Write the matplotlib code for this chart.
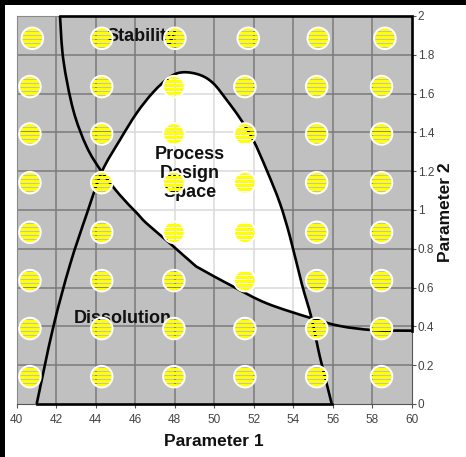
import numpy as np
import matplotlib
matplotlib.use('Agg')
import matplotlib.pyplot as plt
from matplotlib.patches import PathPatch, Rectangle, Ellipse
from matplotlib.path import Path
from matplotlib.transforms import Affine2D

plt.rcParams['font.family'] = ['Liberation Sans', 'DejaVu Sans']

# Stability boundary
stab_x = [42.20, 42.37, 42.87, 43.55, 44.31, 45.23, 46.08, 46.58, 47.76,
          48.94, 49.28, 50.96, 52.65, 54.92, 56.36, 58.04, 60.00]
stab_y = [2.000, 1.773, 1.515, 1.326, 1.197, 1.077, 0.985, 0.931, 0.828,
          0.722, 0.698, 0.605, 0.519, 0.442, 0.402, 0.381, 0.378]

# Dissolution boundary
diss_x = [41.02, 41.86, 42.70, 43.55, 44.31, 45.23, 46.08, 46.92, 47.76,
          48.43, 49.28, 49.95, 50.63, 51.30, 51.97, 52.65, 53.32, 53.83,
          54.42, 54.92, 55.34, 55.68, 55.94]
diss_y = [0.000, 0.397, 0.716, 0.979, 1.196, 1.361, 1.500, 1.608, 1.686,
          1.710, 1.696, 1.653, 1.567, 1.473, 1.361, 1.206, 1.035, 0.862,
          0.622, 0.442, 0.244, 0.107, 0.000]

# experiment points
dot_rows = [1.885, 1.636, 1.392, 1.141, 0.885, 0.636, 0.389, 0.141]
dot_cols_top = [40.80, 44.31, 48.01, 51.72, 55.26, 58.63]
dot_cols = [40.68, 44.31, 47.96, 51.55, 55.18, 58.46]

x_ticks = [40, 42, 44, 46, 48, 50, 52, 54, 56, 58, 60]
y_ticks = [0, 0.2, 0.4, 0.6, 0.8, 1.0, 1.2, 1.4, 1.6, 1.8, 2.0]
y_tick_labels = ['0', '0.2', '0.4', '0.6', '0.8', '1', '1.2', '1.4', '1.6', '1.8', '2']


def smooth_path(xs, ys):
    # bezier path through the read points (catmull-rom style handles)
    p = np.column_stack([xs, ys])
    verts = [p[0]]
    codes = [Path.MOVETO]
    n = len(p)
    for i in range(n - 1):
        p0 = p[i - 1] if i > 0 else p[i]
        p3 = p[i + 2] if i + 2 < n else p[i + 1]
        c1 = p[i] + (p[i + 1] - p0) / 6.0
        c2 = p[i + 1] - (p3 - p[i]) / 6.0
        verts += [c1, c2, p[i + 1]]
        codes += [Path.CURVE4] * 3
    return verts, codes


fig = plt.figure(figsize=(4.66, 4.57), dpi=100)
fig.patch.set_facecolor('white')
# black strips top / left
fig.patches.append(Rectangle((0, 1 - 5 / 457), 1, 5 / 457, transform=fig.transFigure,
                             facecolor='black', edgecolor='none', zorder=0))
fig.patches.append(Rectangle((0, 0), 4.5 / 466, 1, transform=fig.transFigure,
                             facecolor='black', edgecolor='none', zorder=0))

ax_l, ax_b, ax_w, ax_h = 16.5 / 466, 1 - 404 / 457, 395.5 / 466, 388 / 457
ax = fig.add_axes([ax_l, ax_b, ax_w, ax_h])
ax.set_facecolor('#c0c0c0')
ax.set_xlim(40, 60)
ax.set_ylim(0, 2)

# dark grid
for gx in x_ticks[1:-1]:
    ax.axvline(gx, color='#7a7a7a', lw=1.1, zorder=1)
for gy in y_ticks[1:-1]:
    ax.axhline(gy, color='#7a7a7a', lw=1.1, zorder=1)

# white design space (intersection of the two regions)
lo, hi = stab_x[4], stab_x[13]
wx = [x for x in diss_x if lo <= x <= hi]
wy = [y for x, y in zip(diss_x, diss_y) if lo <= x <= hi]
sx = [x for x in stab_x if lo <= x <= hi][::-1]
sy = [y for x, y in zip(stab_x, stab_y) if lo <= x <= hi][::-1]
v1, c1 = smooth_path(wx, wy)
v2, c2 = smooth_path(sx, sy)
c2[0] = Path.LINETO
white_path = Path(np.array(v1 + v2 + [v1[0]]), c1 + c2 + [Path.CLOSEPOLY])
white = PathPatch(white_path, facecolor='white', edgecolor='none', zorder=2)
ax.add_patch(white)
for gx in x_ticks[1:-1]:
    ln = ax.axvline(gx, color='#dadada', lw=1.1, zorder=2.5)
    ln.set_clip_path(white)
for gy in y_ticks[1:-1]:
    ln = ax.axhline(gy, color='#dadada', lw=1.1, zorder=2.5)
    ln.set_clip_path(white)

# boundaries
for xs, ys in [(stab_x, stab_y), (diss_x, diss_y)]:
    v, c = smooth_path(xs, ys)
    ax.add_patch(PathPatch(Path(np.array(v), c), fill=False, edgecolor='black',
                           lw=1.9, zorder=3, clip_on=False))
ax.plot([60, 60, stab_x[0]], [stab_y[-1], 2, 2], color='black', lw=1.9, zorder=3,
        clip_on=False, solid_joinstyle='miter')
ax.plot([diss_x[0], diss_x[-1]], [diss_y[0], diss_y[-1]], color='black', lw=1.9,
        zorder=3, clip_on=False)

# region labels
ax.text(46.3, 1.895, 'Stability', ha='center', va='center', fontsize=13,
        fontweight='bold', color='#111111', zorder=3.5)
ax.text(48.77, 1.19, 'Process\nDesign\nSpace', ha='center', va='center', fontsize=13,
        fontweight='bold', color='#111111', linespacing=1.15, zorder=3.5)
ax.text(45.36, 0.443, 'Dissolution', ha='center', va='center', fontsize=13,
        fontweight='bold', color='#111111', zorder=3.5)

# striped yellow dots (see-through stripes)
px_x = ax_w * 466 / 20.0
px_y = ax_h * 457 / 2.0
r_px = 10.8
rx, ry = r_px / px_x, r_px / px_y
paths = []
for i, yv in enumerate(dot_rows):
    cols = dot_cols_top if i == 0 else dot_cols
    for xv in cols:
        paths.append(Path.unit_circle().transformed(
            Affine2D().scale(rx, ry).translate(xv, yv)))
clip = Path.make_compound_path(*paths)

n_rows = 388
stripes = np.zeros((n_rows, 1, 4))
stripes[:, 0, 0] = 1.0
stripes[:, 0, 1] = 1.0
stripes[:, 0, 3] = 1.0
stripes[::4, 0, 3] = 0.0
im = ax.imshow(stripes, extent=(40, 60, 0, 2), aspect='auto', origin='lower',
               interpolation='nearest', zorder=4)
im.set_clip_path(clip, ax.transData)

for i, yv in enumerate(dot_rows):
    cols = dot_cols_top if i == 0 else dot_cols
    for xv in cols:
        ax.add_patch(Ellipse((xv, yv), 2 * rx, 2 * ry, fill=False,
                             edgecolor='white', lw=1.4, zorder=5))

ax.set_xlim(40, 60)
ax.set_ylim(0, 2)

# axes styling
ax.set_xticks(x_ticks)
ax.set_xticklabels([str(v) for v in x_ticks])
ax.yaxis.tick_right()
ax.set_yticks(y_ticks)
ax.set_yticklabels(y_tick_labels)
ax.tick_params(axis='x', direction='out', length=3, width=0.8, pad=4,
               labelsize=8.5, colors='#555555', labelcolor='#444444')
ax.tick_params(axis='y', direction='out', length=3, width=0.8, pad=1,
               labelsize=8.5, colors='#555555', labelcolor='#444444')
for side in ['left', 'top']:
    ax.spines[side].set_color('#8a8a8a')
    ax.spines[side].set_linewidth(0.8)
for side in ['right', 'bottom']:
    ax.spines[side].set_color('#555555')
    ax.spines[side].set_linewidth(0.8)

fig.text(214 / 466, 1 - 442 / 457, 'Parameter 1', ha='center', va='center',
         fontsize=12.5, fontweight='bold', color='#111111')
fig.text(445 / 466, 1 - 212 / 457, 'Parameter 2', ha='center', va='center',
         rotation=90, fontsize=12.5, fontweight='bold', color='#111111')

fig.savefig('out.png', dpi=100)
